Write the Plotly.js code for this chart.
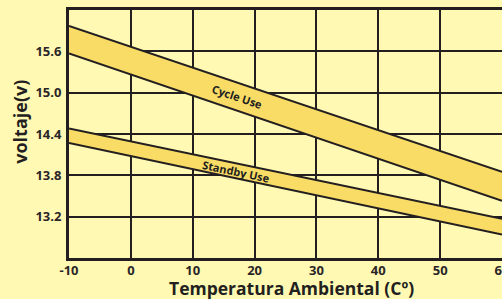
<!DOCTYPE html>
<html><head><meta charset="utf-8">
<script src="https://cdn.plot.ly/plotly-3.0.1.min.js"></script>
<style>html,body{margin:0;padding:0;background:#fff9b4;}#chart{width:502px;height:299px;}</style>
</head><body><div id="chart"></div>
<script>
const temps = [-10, 60];
const cycleUpper = [15.97, 13.85];
const cycleLower = [15.57, 13.43];
const standbyUpper = [14.48, 13.17];
const standbyLower = [14.27, 12.94];
const yTickVals = [13.2, 13.8, 14.4, 15.0, 15.6];
const yTickText = ['13.2', '13.8', '14.4', '15.0', '15.6'];
const xTickVals = [-10, 0, 10, 20, 30, 40, 50, 60];
const xTickText = ['-10', '0', '10', '20', '30', '40', '50', '60'];

const lineColor = '#231f20';
const bandColor = '#f9dc66';
const bg = '#fff9b4';

function band(lower, upper) {
  return [
    {x: temps, y: lower, mode: 'lines', line: {color: lineColor, width: 2}, hoverinfo: 'skip', showlegend: false},
    {x: temps, y: upper, mode: 'lines', fill: 'tonexty', fillcolor: bandColor, line: {color: lineColor, width: 2}, hoverinfo: 'skip', showlegend: false}
  ];
}

const data = [...band(cycleLower, cycleUpper), ...band(standbyLower, standbyUpper)];
const tickFont = {family: 'Open Sans, sans-serif', size: 13, color: '#2a2627', weight: 'bold'};

const layout = {
  width: 502, height: 299,
  margin: {l: 69, r: 0, t: 10, b: 41},
  paper_bgcolor: bg, plot_bgcolor: bg,
  showlegend: false,
  xaxis: {
    range: [-10, 60], tickvals: xTickVals, ticktext: xTickText, ticks: '',
    showgrid: true, gridcolor: lineColor, gridwidth: 2,
    showline: true, linecolor: lineColor, linewidth: 3, mirror: true,
    zeroline: false, tickfont: tickFont, ticklabelstandoff: -2,
    ticklabeloverflow: 'allow'
  },
  yaxis: {
    range: [12.6, 16.2], tickvals: yTickVals, ticktext: yTickText, ticks: '',
    showgrid: true, gridcolor: lineColor, gridwidth: 2,
    showline: true, linecolor: lineColor, linewidth: 3, mirror: true,
    zeroline: false, tickfont: tickFont, ticklabelstandoff: 2
  },
  annotations: [
    {x: 17.2, y: 14.94, text: 'Cycle Use', showarrow: false, textangle: 18.6,
     font: {family: 'Open Sans, sans-serif', size: 11, color: lineColor, weight: 'bold'}},
    {x: 17.1, y: 13.86, text: 'Standby Use', showarrow: false, textangle: 11.8,
     font: {family: 'Open Sans, sans-serif', size: 11, color: lineColor, weight: 'bold'}},
    {xref: 'paper', yref: 'paper', x: 0.515, y: -0.12, yanchor: 'middle', xanchor: 'center',
     text: 'Temperatura Ambiental (Cº)', showarrow: false,
     font: {family: 'Open Sans, sans-serif', size: 17.5, color: lineColor, weight: 'bold'}},
    {xref: 'paper', yref: 'paper', x: -0.115, y: 0.55, xanchor: 'center', yanchor: 'middle',
     text: 'voltaje(v)', showarrow: false, textangle: -90,
     font: {family: 'Open Sans, sans-serif', size: 18, color: lineColor, weight: 'bold'}}
  ]
};

Plotly.newPlot('chart', data, layout, {displayModeBar: false, staticPlot: true});
</script>
</body></html>
